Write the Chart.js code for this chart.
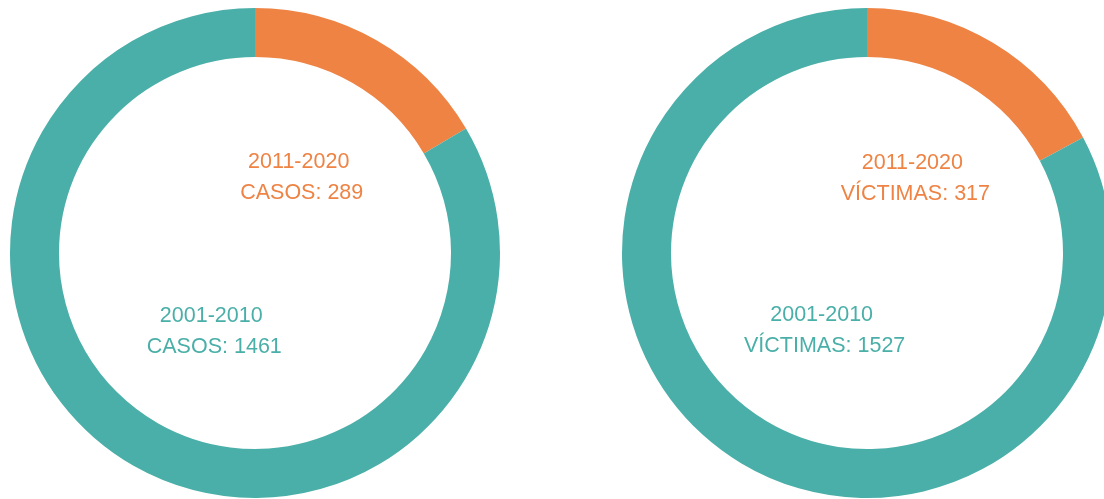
<!DOCTYPE html>
<html>
<head>
<meta charset="utf-8">
<script src="https://cdn.jsdelivr.net/npm/chart.js@4"></script>
<style>
  html, body { margin: 0; padding: 0; background: #fff; overflow: hidden; }
  body { width: 1104px; height: 499px; position: relative; }
  .box { position: absolute; top: 0; width: 510px; height: 499px; }
</style>
</head>
<body>
<div class="box" style="left:0"><canvas id="casosChart"></canvas></div>
<div class="box" style="left:612px"><canvas id="victimasChart"></canvas></div>
<script>
// periods, older first is drawn after the newer one (orange starts at the top)
const periods = ['2011-2020', '2001-2010'];
const casos = [289, 1461];
const victimas = [317, 1527];
const colors = ['#EE8344', '#4AAFA8'];

// draws "period / LABEL: value" at the middle of each arc
const arcLabels = {
    id: 'arcLabels',
    afterDatasetsDraw(chart, args, opts) {
        const ctx = chart.ctx;
        const meta = chart.getDatasetMeta(0);
        const values = chart.data.datasets[0].data;
        ctx.save();
        ctx.font = '21.5px "Liberation Sans", Arial, sans-serif';
        ctx.textAlign = 'center';
        ctx.textBaseline = 'middle';
        meta.data.forEach(function(arc, i) {
            const p = arc.getProps(['x', 'y', 'startAngle', 'endAngle', 'outerRadius'], true);
            const mid = (p.startAngle + p.endAngle) / 2;
            const r = p.outerRadius * 0.36;
            const x = p.x + Math.cos(mid) * r;
            const y = p.y + Math.sin(mid) * r;
            ctx.fillStyle = colors[i];
            ctx.fillText(chart.data.labels[i], x, y - 14);
            ctx.fillText(opts.word + ': ' + values[i], x + 3, y + 17);
        });
        ctx.restore();
    }
};

function makeDoughnut(id, values, word) {
    return new Chart(document.getElementById(id), {
        type: 'doughnut',
        data: {
            labels: periods,
            datasets: [{
                data: values,
                backgroundColor: colors,
                borderWidth: 0
            }]
        },
        options: {
            responsive: true,
            maintainAspectRatio: false,
            animation: false,
            cutout: '80%',
            layout: { padding: { top: 8, bottom: 1, left: 10, right: 10 } },
            plugins: {
                legend: { display: false },
                tooltip: { enabled: false },
                arcLabels: { word: word }
            }
        },
        plugins: [arcLabels]
    });
}

makeDoughnut('casosChart', casos, 'CASOS');
makeDoughnut('victimasChart', victimas, 'VÍCTIMAS');
</script>
</body>
</html>
